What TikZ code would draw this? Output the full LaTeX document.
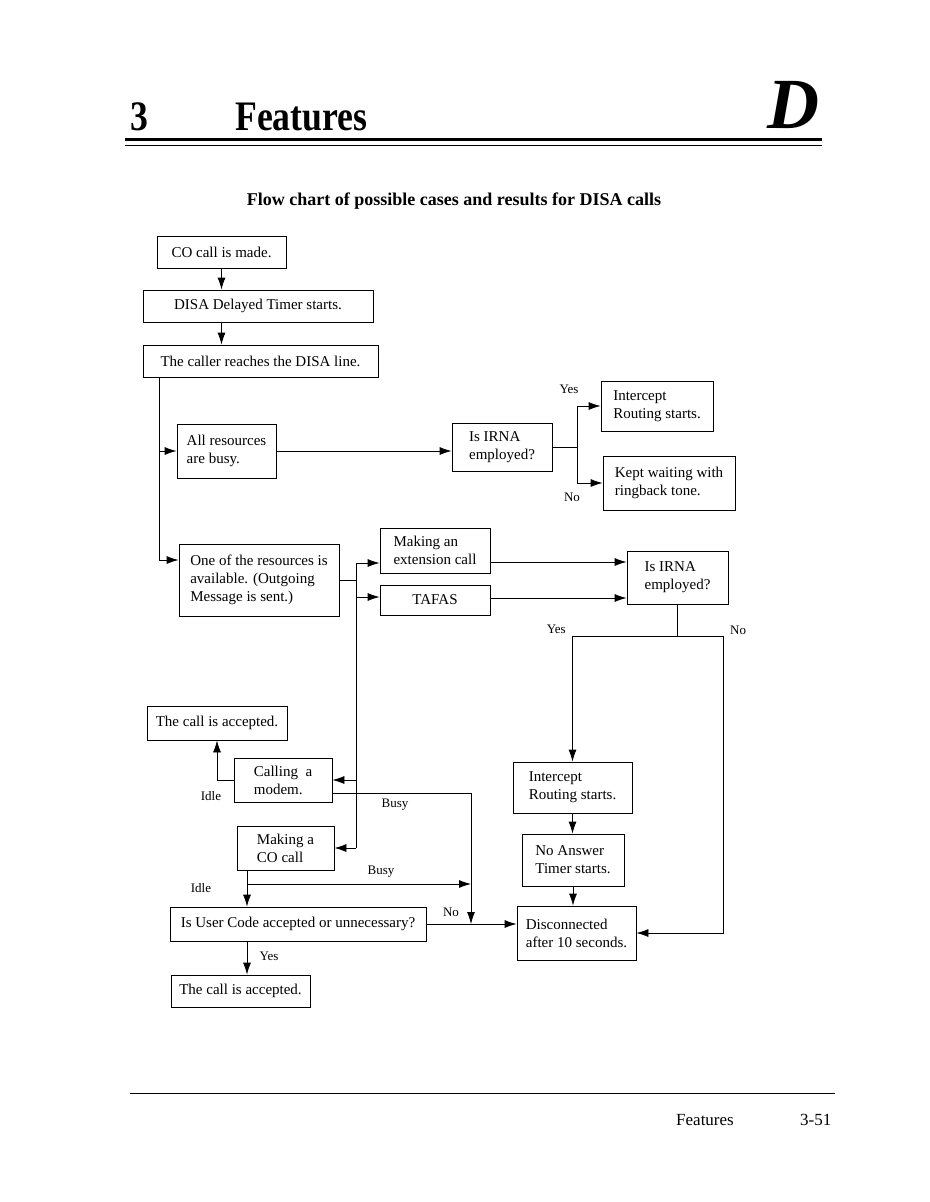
\documentclass[tikz,border=0pt]{standalone}
\usepackage{fontspec}
\setmainfont{Liberation Serif}
\usetikzlibrary{arrows.meta}

\begin{document}
\begin{tikzpicture}[x=1pt,y=-1pt,
  box/.style={draw, line width=0.8pt, align=left, inner sep=0pt, font=\fontsize{15}{18}\selectfont},
  cbox/.style={draw, line width=0.8pt, align=center, inner sep=0pt, font=\fontsize{15}{18}\selectfont},
  lbl/.style={font=\fontsize{13}{14}\selectfont, inner sep=1pt},
  arr/.style={-{Latex[length=12pt,width=8pt]}, line width=0.8pt},
  ln/.style={line width=0.8pt}]
\useasboundingbox (0,0) rectangle (929,1202);

% page head
\node[anchor=base west, inner sep=0pt] (chap) at (130,130) {\scalebox{0.85}[1]{\fontsize{42}{44}\selectfont\bfseries 3}};
\node[anchor=base west, inner sep=0pt] (head) at (235,130) {\scalebox{0.85}[1]{\fontsize{42}{44}\selectfont\bfseries Features}};
\node[anchor=base east, inner sep=0pt] (sect) at (820,128) {\fontsize{72}{72}\selectfont\bfseries\itshape D};
\draw[line width=3pt] (125,139.5) -- (822,139.5);
\draw[line width=0.8pt] (125,145) -- (822,145);

\node[font=\fontsize{18}{20}\selectfont\bfseries] (title) at (454,201) {Flow chart of possible cases and results for DISA calls};

% boxes
\node[cbox, minimum width=129pt, minimum height=32pt] (co) at (221.5,252) {CO call is made.};
\node[cbox, minimum width=230pt, minimum height=32pt] (delay) at (258,306) {DISA Delayed Timer starts.};
\node[cbox, minimum width=235pt, minimum height=32pt] (reach) at (260.5,361) {The caller reaches the DISA line.};
\node[box, minimum width=99pt, minimum height=54pt] (busy) at (226.5,451) {All resources\\are busy.};
\node[box, minimum width=100pt, minimum height=48pt] (irnaA) at (502,447) {Is IRNA\\employed?};
\node[box, minimum width=112pt, minimum height=50pt] (intA) at (657,406) {Intercept\\Routing starts.};
\node[box, minimum width=132pt, minimum height=54pt] (kept) at (669,483) {Kept waiting with\\ringback tone.};
\node[box, minimum width=160pt, minimum height=72pt] (avail) at (259,580) {One of the resources is\\available. (Outgoing\\Message is sent.)};
\node[box, minimum width=110pt, minimum height=45pt] (ext) at (435,550.5) {Making an\\extension call};
\node[cbox, minimum width=110pt, minimum height=30pt] (tafas) at (435,600) {TAFAS};
\node[box, minimum width=101pt, minimum height=53pt] (irnaB) at (677.5,577.5) {Is IRNA\\employed?};
\node[cbox, minimum width=140pt, minimum height=34pt] (acc1) at (217,723) {The call is accepted.};
\node[box, minimum width=98pt, minimum height=44pt] (modem) at (283,780) {Calling~ a\\modem.};
\node[box, minimum width=97pt, minimum height=44pt] (cocall) at (285.5,848) {Making a\\CO call};
\node[cbox, minimum width=256pt, minimum height=34pt] (user) at (298,924) {Is User Code accepted or unnecessary?};
\node[cbox, minimum width=139pt, minimum height=32pt] (acc2) at (240.5,991) {The call is accepted.};
\node[box, minimum width=119pt, minimum height=51pt] (intB) at (572.5,787.5) {Intercept\\Routing starts.};
\node[box, minimum width=102pt, minimum height=52pt] (noans) at (573,860) {No Answer\\Timer starts.};
\node[box, minimum width=119pt, minimum height=54pt] (disc) at (576.5,933) {Disconnected\\after 10 seconds.};

% bends and rows
\coordinate (trunk) at (159,377);
\coordinate (spine) at (356,580);
\coordinate (splitA) at (577,447);
\coordinate (splitB) at (677.5,636);
\coordinate (noB) at (723,636);
\coordinate (busyx) at (471,793);
\coordinate (idle) at (247,884);
\coordinate (rowE) at (0,562);
\coordinate (rowT) at (0,598);
\coordinate (availin) at (0,560);
\coordinate (extin) at (0,563);
\coordinate (tafin) at (0,597);
\coordinate (modout) at (0,793);

\draw[arr] (co.south) -- (co.south |- delay.north);
\draw[arr] (co.south |- delay.south) -- (co.south |- reach.north);
\draw[arr] (reach.south -| trunk) |- (avail.west |- availin);
\draw[arr] (trunk |- busy.west) -- (busy.west);

\draw[arr] (busy.east) -- (busy.east -| irnaA.west);
\draw[ln] (irnaA.east) -- (splitA);
\draw[arr] (splitA) |- (intA.west);
\draw[arr] (splitA) |- (kept.west);
\node[lbl] (yesA) at (569,389) {Yes};
\node[lbl] (noA) at (572,497) {No};

\draw[ln] (avail.east) -- (spine);
\draw[ln] (spine |- extin) -- (spine |- cocall.east);
\draw[arr] (spine |- extin) -- (ext.west |- extin);
\draw[arr] (spine |- tafin) -- (tafas.west |- tafin);
\draw[arr] (spine |- modem.east) -- (modem.east);
\draw[arr] (spine |- cocall.east) -- (cocall.east);

\draw[arr] (ext.east |- rowE) -- (irnaB.west |- rowE);
\draw[arr] (tafas.east |- rowT) -- (irnaB.west |- rowT);
\draw[ln] (irnaB.south) -- (splitB);
\draw[ln] (intB.north |- splitB) -- (noB);
\draw[arr] (intB.north |- splitB) -- (intB.north);
\draw[arr] (noB) |- (disc.east);
\node[lbl, anchor=east] (yesB) at (567,629) {Yes};
\node[lbl, anchor=west] (noBl) at (729,630) {No};

\draw[arr] (intB.south) -- (intB.south |- noans.north);
\draw[arr] (noans.south) -- (noans.south |- disc.north);

\draw[arr] (modem.west) -| (acc1.south);
\node[lbl] (idleA) at (211,796) {Idle};
\draw[arr] (modem.east |- modout) -| (busyx |- user.east);
\node[lbl] (busyA) at (395,805) {Busy};

\draw[ln] (cocall.south -| idle) -- (idle);
\draw[arr] (idle) -- (user.north -| idle);
\draw[arr] (idle) -- (idle -| busyx);
\node[lbl] (busyB) at (381,872) {Busy};
\node[lbl] (idleB) at (201,888) {Idle};

\draw[arr] (user.east) -- (user.east -| disc.west);
\node[lbl] (noC) at (451,912) {No};
\draw[arr] (user.south -| idle) -- (acc2.north -| idle);
\node[lbl] (yesC) at (269,956) {Yes};

% page foot
\draw[line width=0.6pt] (130,1093) -- (835,1093);
\node[anchor=base west, inner sep=0pt, font=\fontsize{17}{18}\selectfont] (foot) at (676,1125) {Features};
\node[anchor=base west, inner sep=0pt, font=\fontsize{17}{18}\selectfont] (page) at (800,1125) {3-51};
\end{tikzpicture}
\end{document}
